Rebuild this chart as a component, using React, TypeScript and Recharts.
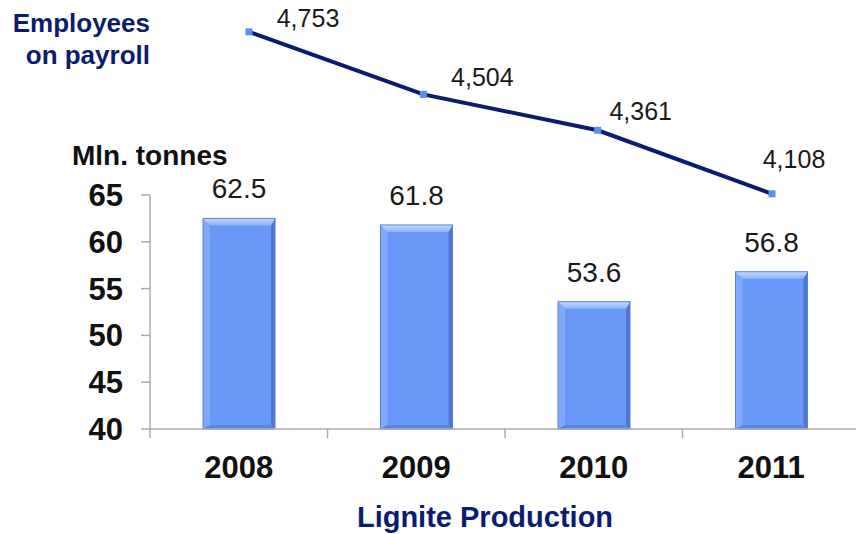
import { BarChart, Bar, LineChart, Line, XAxis, YAxis, LabelList } from 'recharts';

const years = ['2008', '2009', '2010', '2011'];
const lignite = [62.5, 61.8, 53.6, 56.8];
const employees = [4753, 4504, 4361, 4108];
const yTicks = [40, 45, 50, 55, 60, 65];
// where each employee label sits relative to its point (centre dx, baseline dy)
const empLabelDx = [59, 59, 43, 22];
const empLabelDy = [-5, -8, -10, -26];

const barData = years.map((year, i) => ({ year, value: lignite[i] }));
const lineData = years.map((year, i) => ({ year, value: employees[i] }));

const FONT = "Arial, 'Liberation Sans', sans-serif";
const NAVY = '#0b1c6e';
const AXIS = '#ababab';

function BevelBar(props: any) {
  const { x, y, width, height } = props;
  const b = 7;
  const r = x + width;
  const btm = y + height;
  return (
    <g>
      <rect x={x} y={y} width={width} height={height} fill="#6898f8" />
      <polygon points={`${x},${y} ${x + b},${y + b} ${x + b},${btm - 4} ${x},${btm}`} fill="#80aaf9" />
      <polygon points={`${r},${y} ${r},${btm} ${r - 4},${btm - 4} ${r - 4},${y + b}`} fill="#4e76d2" />
      <polygon points={`${x},${btm} ${r},${btm} ${r - 4},${btm - 4} ${x + b},${btm - 4}`} fill="#5a86e6" />
      <polygon points={`${x},${y} ${r},${y} ${r - 4},${y + b} ${x + b},${y + b}`} fill="url(#bevelTop)" />
      <rect x={x} y={y} width={width} height={height} fill="none" stroke="#5b80d6" strokeWidth={1} />
    </g>
  );
}

function YearTick(props: any) {
  const { x, y, payload } = props;
  const half = payload?.offset ?? 0;
  return (
    <g>
      <line x1={x - half} x2={x - half} y1={y - 27} y2={y - 18} stroke={AXIS} strokeWidth={1.5} />
      <text x={x} y={y} dy="0.71em" textAnchor="middle" fontSize={31} fontWeight="bold" fill="#111" fontFamily={FONT}>
        {payload.value}
      </text>
    </g>
  );
}

function SquareDot(props: any) {
  const { cx, cy } = props;
  return <rect x={cx - 3.5} y={cy - 3.5} width={7} height={7} fill="#5b8ef2" />;
}

function EmpLabel(props: any) {
  const { x, y, value, index } = props;
  return (
    <text x={x + empLabelDx[index]} y={y + empLabelDy[index]} textAnchor="middle" fontSize={25} fill="#1a1a1a" fontFamily={FONT}>
      {Number(value).toLocaleString('en-US')}
    </text>
  );
}

export default function App() {
  return (
    <div style={{ position: 'absolute', left: 0, top: 0, width: 856, height: 534, overflow: 'hidden', background: '#fff', fontFamily: FONT }}>
      <div style={{ position: 'absolute', left: 0, top: 0 }}>
        <BarChart width={870} height={534} data={barData} margin={{ top: 195, right: 10, bottom: 0, left: 0 }} barSize={72}>
          <defs>
            <linearGradient id="bevelTop" x1="0" y1="0" x2="0" y2="1">
              <stop offset="0%" stopColor="#c4dbff" />
              <stop offset="100%" stopColor="#8cb2fb" />
            </linearGradient>
          </defs>
          <XAxis
            dataKey="year"
            height={105}
            axisLine={{ stroke: AXIS, strokeWidth: 1.5 }}
            tickLine={false}
            tickSize={9}
            tickMargin={18}
            tick={<YearTick />}
            interval={0}
            label={{ value: 'Lignite Production', position: 'insideBottom', offset: 7, dx: -20, fontSize: 29, fontWeight: 'bold', fill: NAVY, fontFamily: FONT }}
          />
          <YAxis
            width={150}
            domain={[40, 65]}
            ticks={yTicks}
            interval={0}
            axisLine={{ stroke: AXIS, strokeWidth: 1.5 }}
            tickLine={{ stroke: AXIS, strokeWidth: 1.5 }}
            tickSize={9}
            tickMargin={18}
            tick={{ fontSize: 31, fontWeight: 'bold', fill: '#111', fontFamily: FONT }}
          />
          <Bar dataKey="value" shape={<BevelBar />} isAnimationActive={false}>
            <LabelList dataKey="value" position="top" offset={20} fontSize={28} fill="#1a1a1a" fontFamily={FONT} />
          </Bar>
        </BarChart>
      </div>
      <div style={{ position: 'absolute', left: 0, top: 0, pointerEvents: 'none' }}>
        <LineChart width={856} height={534} data={lineData} margin={{ top: 20, right: 84, bottom: 313, left: 249 }}>
          <XAxis dataKey="year" hide />
          <YAxis hide domain={[4000, 4800]} />
          <Line
            dataKey="value"
            stroke={NAVY}
            strokeWidth={4}
            dot={<SquareDot />}
            activeDot={false}
            isAnimationActive={false}
          >
            <LabelList dataKey="value" content={<EmpLabel />} />
          </Line>
        </LineChart>
      </div>
      <div style={{ position: 'absolute', right: 856 - 150, top: 7, textAlign: 'right', color: NAVY, fontWeight: 'bold', fontSize: 26, lineHeight: '32px', whiteSpace: 'nowrap' }}>
        Employees
        <br />
        on payroll
      </div>
      <div style={{ position: 'absolute', left: 72, top: 140, color: '#111', fontWeight: 'bold', fontSize: 28, whiteSpace: 'nowrap' }}>
        Mln. tonnes
      </div>
    </div>
  );
}
